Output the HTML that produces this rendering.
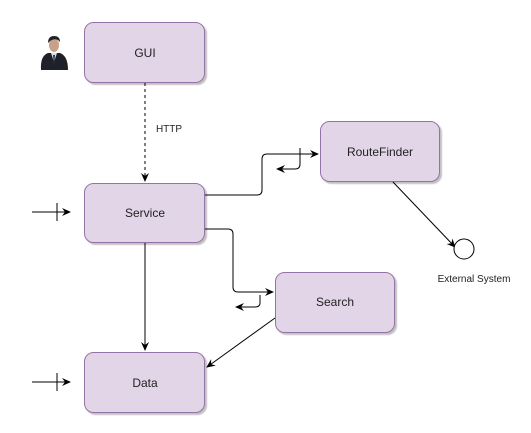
<!DOCTYPE html>
<html><head><style>
body{margin:0;background:#fff;width:531px;height:433px;overflow:hidden}
svg{display:block}
text{font-family:"Liberation Sans",sans-serif;fill:#222}
</style></head><body>
<svg width="531" height="433" viewBox="0 0 531 433">
<defs>
<marker id="a" markerWidth="10" markerHeight="10" refX="8" refY="5" orient="auto" markerUnits="userSpaceOnUse">
<path d="M0,1 L9,5 L0,9 L3,5 Z" fill="#000"/></marker>
<filter id="s"><feDropShadow dx="2" dy="2" stdDeviation="0.6" flood-color="#999" flood-opacity="0.6"/></filter>
</defs>
<g fill="#e1d5e7" stroke="#9673a6" stroke-width="1" filter="url(#s)">
<rect x="84.5" y="22.5" width="120" height="60" rx="9"/>
<rect x="84.5" y="183.5" width="120" height="59" rx="9"/>
<rect x="84.5" y="352.5" width="120" height="60" rx="9"/>
<rect x="320.5" y="121.5" width="119" height="60" rx="9"/>
<rect x="275.5" y="272.5" width="119" height="60" rx="9"/>
</g>
<g font-size="12" text-anchor="middle">
<text x="145" y="57">GUI</text>
<text x="145" y="217">Service</text>
<text x="145" y="387">Data</text>
<text x="380" y="156">RouteFinder</text>
<text x="335" y="306">Search</text>
<text x="474" y="282" font-size="10">External System</text>
<text x="169" y="132" font-size="10">HTTP</text>
</g>
<g fill="none" stroke="#000" stroke-width="1">
<path d="M145,83 V181" stroke-dasharray="3,3" marker-end="url(#a)"/>
<path d="M205,195 H257 Q262,195 262,190 V159 Q262,154 267,154 H318" marker-end="url(#a)"/>
<path d="M300,148 V164 Q300,169 295,169 H277" marker-end="url(#a)"/>
<path d="M205,229 H228 Q233,229 233,234 V287 Q233,292 238,292 H273" marker-end="url(#a)"/>
<path d="M260,295 V303 Q260,307 255,307 H236" marker-end="url(#a)"/>
<path d="M275,318 L207,367" marker-end="url(#a)"/>
<path d="M393,182 L455,247" marker-end="url(#a)"/>
<path d="M145,243 V350" marker-end="url(#a)"/>
<path d="M32,212 H70" marker-end="url(#a)"/>
<path d="M57,203 V221"/>
<path d="M32,382 H70" marker-end="url(#a)"/>
<path d="M57,373 V391"/>
</g>
<circle cx="464" cy="249" r="10" fill="#fff" stroke="#000" stroke-width="1"/>
<g>
<path d="M41,70 Q40,56 48,53 L60,53 Q68,56 68,70 Z" fill="#1e2228"/>
<path d="M51,53 L54,62 L57,53 Z" fill="#dde"/>
<path d="M53,55 L54,66 L55,55 Z" fill="#234"/>
<ellipse cx="54" cy="45" rx="5" ry="7" fill="#c9a08a"/>
<path d="M48,43 Q48,36 54,36 Q60,36 60,42 L58,40 Q54,38 50,41 Z" fill="#222"/>
</g>
</svg>
</body></html>
